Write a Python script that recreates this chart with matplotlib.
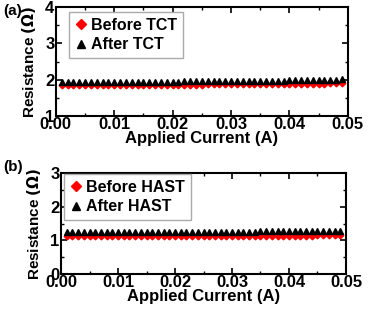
import matplotlib
matplotlib.use("Agg")
import matplotlib.pyplot as plt
from matplotlib.ticker import MultipleLocator

plt.rcParams['font.family'] = ['Liberation Sans', 'DejaVu Sans']
plt.rcParams['font.weight'] = 'bold'
plt.rcParams['mathtext.fontset'] = 'dejavusans'

current = [0.001, 0.002, 0.003, 0.004, 0.005, 0.006, 0.007, 0.008, 0.009, 0.010,
           0.011, 0.012, 0.013, 0.014, 0.015, 0.016, 0.017, 0.018, 0.019, 0.020,
           0.021, 0.022, 0.023, 0.024, 0.025, 0.026, 0.027, 0.028, 0.029, 0.030,
           0.031, 0.032, 0.033, 0.034, 0.035, 0.036, 0.037, 0.038, 0.039, 0.040,
           0.041, 0.042, 0.043, 0.044, 0.045, 0.046, 0.047, 0.048, 0.049]

before_tct = [1.85, 1.85, 1.85, 1.85, 1.85, 1.85, 1.85, 1.85, 1.85, 1.85,
              1.85, 1.85, 1.85, 1.85, 1.86, 1.86, 1.86, 1.86, 1.86, 1.86,
              1.86, 1.86, 1.86, 1.86, 1.86, 1.87, 1.87, 1.87, 1.87, 1.87,
              1.87, 1.87, 1.87, 1.87, 1.88, 1.88, 1.88, 1.88, 1.88, 1.88,
              1.88, 1.89, 1.89, 1.89, 1.89, 1.89, 1.90, 1.90, 1.90]
after_tct = [1.93, 1.93, 1.93, 1.93, 1.93, 1.93, 1.93, 1.93, 1.93, 1.93,
             1.93, 1.93, 1.94, 1.94, 1.94, 1.94, 1.94, 1.94, 1.94, 1.94,
             1.94, 1.95, 1.95, 1.95, 1.95, 1.95, 1.95, 1.95, 1.96, 1.96,
             1.96, 1.96, 1.96, 1.96, 1.97, 1.97, 1.97, 1.97, 1.97, 1.98,
             1.98, 1.98, 1.98, 1.99, 1.99, 1.99, 2.00, 2.00, 2.01]

before_hast = [1.12, 1.12, 1.12, 1.12, 1.12, 1.12, 1.12, 1.12, 1.12, 1.12,
               1.12, 1.12, 1.12, 1.12, 1.12, 1.12, 1.12, 1.12, 1.12, 1.12,
               1.13, 1.13, 1.13, 1.13, 1.13, 1.13, 1.13, 1.13, 1.13, 1.13,
               1.13, 1.13, 1.13, 1.13, 1.13, 1.14, 1.14, 1.14, 1.14, 1.14,
               1.14, 1.14, 1.14, 1.14, 1.15, 1.15, 1.15, 1.15, 1.15]
after_hast = [1.25, 1.25, 1.25, 1.25, 1.25, 1.25, 1.25, 1.25, 1.25, 1.25,
              1.25, 1.25, 1.25, 1.25, 1.25, 1.25, 1.25, 1.25, 1.25, 1.25,
              1.26, 1.26, 1.26, 1.26, 1.26, 1.26, 1.26, 1.26, 1.26, 1.26,
              1.26, 1.26, 1.26, 1.26, 1.27, 1.27, 1.27, 1.27, 1.27, 1.27,
              1.27, 1.27, 1.27, 1.28, 1.28, 1.28, 1.28, 1.28, 1.28]

xticks = [0.00, 0.01, 0.02, 0.03, 0.04, 0.05]
xticklabels = ['0.00', '0.01', '0.02', '0.03', '0.04', '0.05']

fig = plt.figure(figsize=(3.7, 3.1), dpi=100)
ax1 = fig.add_axes([0.151, 0.626, 0.789, 0.351])
ax2 = fig.add_axes([0.165, 0.116, 0.770, 0.326])

panels = [
    (ax1, before_tct, after_tct, 'Before TCT', 'After TCT', (1, 4), [1, 2, 3, 4], (0.045, 0.955)),
    (ax2, before_hast, after_hast, 'Before HAST', 'After HAST', (0, 3), [0, 1, 2, 3], (0.01, 0.99)),
]

for ax, bef, aft, lb, la, ylim, yt, anchor in panels:
    ax.plot(current, bef, linestyle='none', marker='D', markersize=3.4, color='red',
            markeredgecolor='red', label=lb)
    ax.plot(current, aft, linestyle='none', marker='^', markersize=4.2, color='black',
            label=la)
    ax.set_xlim(0, 0.05)
    ax.set_ylim(*ylim)
    ax.set_xticks(xticks)
    ax.set_xticklabels(xticklabels)
    ax.set_yticks(yt)
    ax.xaxis.set_minor_locator(MultipleLocator(0.005))
    ax.yaxis.set_minor_locator(MultipleLocator(0.5))
    ax.tick_params(which='both', direction='in', top=True, right=True, labelsize=12, pad=1)
    ax.tick_params(which='major', length=4, width=1.2)
    ax.tick_params(which='minor', length=2, width=1)
    for s in ax.spines.values():
        s.set_linewidth(1.5)
    ax.set_xlabel('Applied Current (A)', fontsize=12, fontweight='bold', labelpad=-1)
    ax.set_ylabel(r'Resistance $(\Omega)$', fontsize=11, fontweight='bold', labelpad=5)
    leg = ax.legend(loc='upper left', fontsize=11.5, handletextpad=0.25, handlelength=0.8,
                    borderpad=0.35, labelspacing=0.3, fancybox=False, framealpha=1,
                    edgecolor='#aaaaaa', bbox_to_anchor=anchor, borderaxespad=0,
                    markerscale=1.5)
    leg.get_frame().set_linewidth(1.0)
    for t in leg.get_texts():
        t.set_fontweight('bold')

fig.text(0.008, 0.965, '(a)', fontsize=11, fontweight='bold', va='center')
fig.text(0.008, 0.46, '(b)', fontsize=11, fontweight='bold', va='center')

fig.savefig('out.png', dpi=100)
